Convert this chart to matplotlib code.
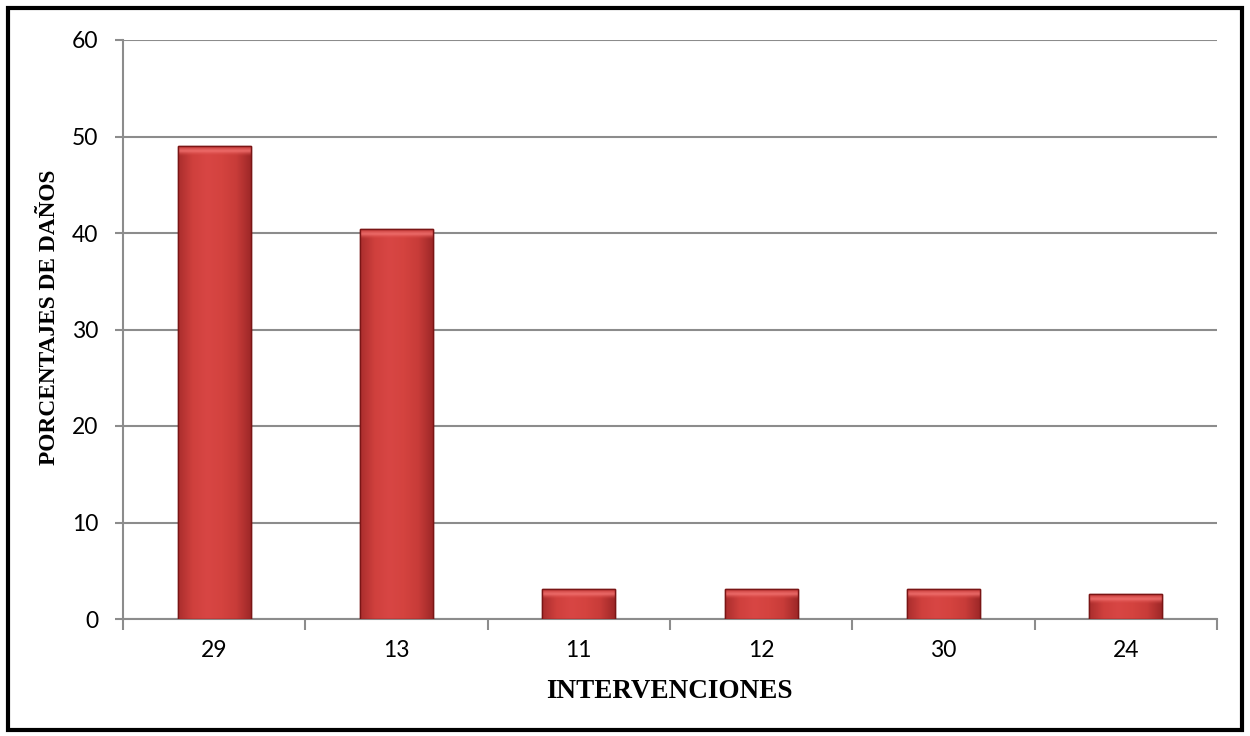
import numpy as np
import matplotlib.pyplot as plt
from matplotlib.patches import Rectangle
from matplotlib.colors import LinearSegmentedColormap

categorias = ['29', '13', '11', '12', '30', '24']
porcentajes = [49.0, 40.4, 3.1, 3.1, 3.1, 2.6]

GRIS = '#8c8c8c'

fig = plt.figure(figsize=(12.5, 7.36), dpi=100)
ax = fig.add_axes([123/1250, 1 - 619/736, (1217-123)/1250, (619-40)/736])

x = np.arange(len(categorias))
ancho = 0.4
barras = ax.bar(x, porcentajes, width=ancho, color='#d5423f', edgecolor='#7a1515',
                linewidth=1.0, zorder=3)

# degradado suave tipo Excel dentro de cada barra
cmap = LinearSegmentedColormap.from_list(
    'rojo', ['#a92d2d', '#cf403d', '#d84644', '#d4433f', '#c83c39', '#9e2828'])
cmap_bisel = LinearSegmentedColormap.from_list(
    'bisel', [(0.84, 0.27, 0.26, 0.0), (0.95, 0.45, 0.44, 0.9), (0.75, 0.2, 0.2, 1.0)])
grad = np.linspace(0, 1, 256).reshape(1, -1)
grad_v = np.linspace(0, 1, 64).reshape(-1, 1)
bisel = 60 / 579 * 10  # unos 10 px en unidades de datos
for b in barras:
    x0, y0 = b.get_x(), b.get_y()
    w, h = b.get_width(), b.get_height()
    im = ax.imshow(grad, extent=[x0, x0 + w, y0, y0 + h], aspect='auto',
                   cmap=cmap, zorder=3.5, interpolation='bicubic')
    im.set_clip_path(b)
    # bisel claro en la parte superior
    alto = min(bisel, h * 0.5)
    imb = ax.imshow(grad_v, extent=[x0, x0 + w, y0 + h - alto, y0 + h], aspect='auto',
                    cmap=cmap_bisel, zorder=3.6, interpolation='bicubic', origin='lower')
    imb.set_clip_path(b)
    ax.add_patch(Rectangle((x0, y0), w, h, facecolor='none', edgecolor='#7a1515',
                           linewidth=1.0, zorder=3.8))

ax.set_xlim(-0.5, len(categorias) - 0.5)
ax.set_ylim(0, 60)
ax.set_yticks(range(0, 61, 10))
ax.set_xticks(x)
ax.set_xticklabels(categorias)
ax.set_xticks(np.arange(-0.5, len(categorias), 1), minor=True)
ax.tick_params(axis='x', which='major', length=0, pad=15)
ax.tick_params(axis='x', which='minor', length=8, width=1.5, color=GRIS, direction='out')
ax.tick_params(axis='y', length=6, width=1.5, color=GRIS, pad=12)
for lab in ax.get_xticklabels() + ax.get_yticklabels():
    lab.set_fontfamily('Lato')
    lab.set_fontsize(16.5)

ax.grid(axis='y', color=GRIS, linewidth=1.5, zorder=0)
ax.set_axisbelow(True)
for s in ['top', 'right']:
    ax.spines[s].set_visible(False)
for s in ['left', 'bottom']:
    ax.spines[s].set_color(GRIS)
    ax.spines[s].set_linewidth(1.5)

ax.set_xlabel('INTERVENCIONES', fontfamily='Liberation Serif', fontweight='bold',
              fontsize=19.5)
ax.set_ylabel('PORCENTAJES DE DAÑOS', fontfamily='Liberation Serif', fontweight='bold',
              fontsize=16.8)
ax.xaxis.set_label_coords(0.499, -(692 - 619) / 579, transform=ax.transAxes)
ax.yaxis.set_label_coords(-(123 - 50) / 1094, (619 - 317) / 579, transform=ax.transAxes)
ax.xaxis.label.set_va('center')
ax.yaxis.label.set_va('center')

# marco negro alrededor del grafico
fig.patches.append(Rectangle((8/1250, 6/736), 1234/1250, 722/736, transform=fig.transFigure,
                             facecolor='none', edgecolor='black', linewidth=3))

fig.savefig('out.png', dpi=100)
